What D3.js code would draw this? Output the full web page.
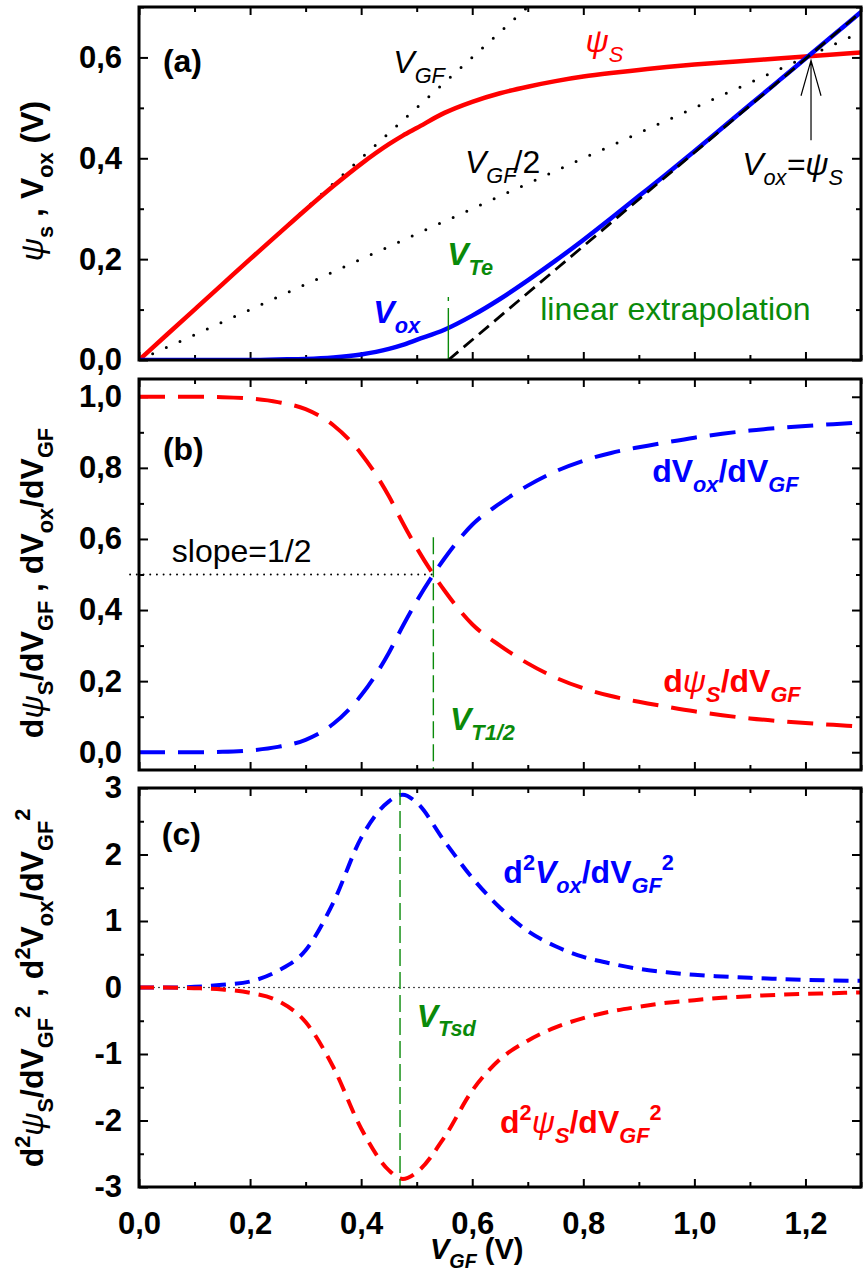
<!DOCTYPE html>
<html>
<head>
<meta charset="utf-8">
<script src="https://cdn.jsdelivr.net/npm/d3@7/dist/d3.min.js"></script>
<style>
  html, body { margin: 0; padding: 0; background: #fff; }
  svg { display: block; font-family: Arial, "Liberation Sans", sans-serif; }
</style>
</head>
<body>
<svg id="chart" width="865" height="1275"></svg>
<script>
"use strict";

/* ── Data ── */
const VGF    = [0, 0.05, 0.1, 0.15, 0.2, 0.25, 0.3, 0.35, 0.4, 0.45, 0.475, 0.5, 0.55, 0.6, 0.65, 0.7,
                0.75, 0.8, 0.85, 0.9, 0.95, 1.0, 1.05, 1.1, 1.15, 1.2, 1.25, 1.3];
const PSI_S  = [0, 0.05, 0.1, 0.15, 0.2, 0.249, 0.298, 0.345, 0.389, 0.428, 0.445, 0.46, 0.49, 0.512, 0.529, 0.542,
                0.553, 0.562, 0.569, 0.575, 0.581, 0.586, 0.59, 0.594, 0.598, 0.602, 0.606, 0.61];
const V_OX   = [0, 0, 0, 0, 0, 0.001, 0.002, 0.005, 0.011, 0.022, 0.03, 0.04, 0.06, 0.088, 0.121, 0.158,
                0.197, 0.238, 0.281, 0.325, 0.369, 0.414, 0.46, 0.506, 0.552, 0.598, 0.644, 0.69];
const D_PSI  = [1, 1, 1, 0.999, 0.995, 0.985, 0.965, 0.92, 0.84, 0.72, 0.645, 0.575, 0.455, 0.36, 0.30, 0.25,
                0.21, 0.18, 0.158, 0.142, 0.128, 0.115, 0.104, 0.095, 0.088, 0.082, 0.077, 0.072];
const D_VOX  = [0, 0, 0, 0.001, 0.005, 0.015, 0.035, 0.08, 0.16, 0.28, 0.355, 0.425, 0.545, 0.64, 0.70, 0.75,
                0.79, 0.82, 0.842, 0.858, 0.872, 0.885, 0.896, 0.905, 0.912, 0.918, 0.923, 0.928];
const D2_VOX = [0, 0, 0.01, 0.04, 0.09, 0.25, 0.56, 1.28, 2.25, 2.8, 2.9, 2.78, 2.2, 1.65, 1.2, 0.85,
                0.62, 0.46, 0.36, 0.28, 0.23, 0.19, 0.165, 0.145, 0.13, 0.115, 0.105, 0.10];
const D2_PSI = [0, 0, -0.01, -0.03, -0.08, -0.2, -0.52, -1.2, -2.12, -2.75, -2.88, -2.78, -2.25, -1.55, -1.08, -0.8,
                -0.6, -0.46, -0.36, -0.29, -0.23, -0.19, -0.155, -0.13, -0.11, -0.095, -0.085, -0.075];

/* reference lines (VGF, value) */
const LINE_VGF     = [[0, 0], [0.75, 0.75]];
const LINE_VGF_2   = [[0, 0], [1.3, 0.65]];
const LINE_EXTRAP  = [[0.557, 0], [1.3, 0.69]];
const SLOPE_HALF   = [[-0.016, 0.5], [0.53, 0.5]];
const ZERO_LINE    = [[0, 0], [1.3, 0]];

const V_TE = 0.557, V_T12 = 0.53, V_TSD = 0.47, V_CROSS = 1.21;

const X_MAJOR = [0, 0.2, 0.4, 0.6, 0.8, 1.0, 1.2];
const X_MINOR = [0.1, 0.3, 0.5, 0.7, 0.9, 1.1, 1.3];
const YA_MAJOR = [0, 0.2, 0.4, 0.6], YA_MINOR = [0.1, 0.3, 0.5, 0.7];
const YB_MAJOR = [0, 0.2, 0.4, 0.6, 0.8, 1.0], YB_MINOR = [0.1, 0.3, 0.5, 0.7, 0.9];
const YC_MAJOR = [-3, -2, -1, 0, 1, 2, 3], YC_MINOR = [-2.5, -1.5, -0.5, 0.5, 1.5, 2.5];

const RED = "#ff0000", BLUE = "#0000ff", GREEN = "#0a8a0a";
const FS = 32;

const svg = d3.select("#chart");
const x = d3.scaleLinear().domain([0, 1.3]).range([139, 861]);

const panels = {
  a: { y: d3.scaleLinear().domain([0, 0.7]).range([360, 7]),       major: YA_MAJOR, minor: YA_MINOR, fmt: d3.format(".1f") },
  b: { y: d3.scaleLinear().domain([-0.05, 1.05]).range([770, 379]), major: YB_MAJOR, minor: YB_MINOR, fmt: d3.format(".1f") },
  c: { y: d3.scaleLinear().domain([-3, 3]).range([1187, 788]),      major: YC_MAJOR, minor: YC_MINOR, fmt: d3.format("d") }
};
const comma = f => v => f(v).replace(".", ",").replace("−", "-");

/* rich text helper: parts = [{t, sub, sup, it, w}] */
function rich(parent, parts, attrs, size) {
  size = size || FS;
  const t = parent.append("text").attr("font-size", size);
  Object.entries(attrs).forEach(([k, v]) => t.attr(k, v));
  let off = 0;
  parts.forEach(p => {
    const s = t.append("tspan").text(p.t);
    const target = p.sub ? size * 0.3 : p.sup ? -size * 0.42 : 0;
    if (target !== off) { s.attr("dy", target - off); off = target; }
    if (p.sub || p.sup) s.attr("font-size", size * 0.68);
    if (p.it) s.attr("font-style", "italic");
    if (p.w) s.attr("font-weight", p.w);
    if (p.dx) s.attr("dx", p.dx);
  });
  return t;
}

function curve(g, ys, py, color, width, dash) {
  const line = d3.line().x((d, i) => x(VGF[i])).y(d => py(d)).curve(d3.curveMonotoneX);
  g.append("path").attr("d", line(ys)).attr("fill", "none")
    .attr("stroke", color).attr("stroke-width", width)
    .attr("stroke-dasharray", dash || null);
}
function seg(g, pts, py, color, width, dash, cap) {
  const line = d3.line().x(d => x(d[0])).y(d => py(d[1]));
  g.append("path").attr("d", line(pts)).attr("fill", "none")
    .attr("stroke", color).attr("stroke-width", width)
    .attr("stroke-dasharray", dash || null)
    .attr("stroke-linecap", cap || "butt");
}

/* ── Frames, ticks and clip areas ── */
Object.entries(panels).forEach(([key, p]) => {
  const [y0, y1] = p.y.range();
  const styleAxis = g => {
    g.select(".domain").remove();
    g.selectAll("line").attr("stroke", "#000").attr("stroke-width", 2);
    g.selectAll("text").attr("fill", "#000").attr("font-size", 31).attr("font-weight", "bold")
      .attr("font-family", "Arial, 'Liberation Sans', sans-serif");
  };
  const axes = svg.append("g");
  axes.append("g").attr("transform", `translate(${x.range()[0]},0)`)
    .call(d3.axisLeft(p.y).tickValues(p.major).tickSize(-9).tickPadding(17).tickFormat(comma(p.fmt))).call(styleAxis);
  axes.append("g").attr("transform", `translate(${x.range()[0]},0)`)
    .call(d3.axisLeft(p.y).tickValues(p.minor).tickSize(-5).tickFormat("")).call(styleAxis);
  axes.append("g").attr("transform", `translate(${x.range()[1]},0)`)
    .call(d3.axisRight(p.y).tickValues(p.major).tickSize(-9).tickFormat("")).call(styleAxis);
  axes.append("g").attr("transform", `translate(${x.range()[1]},0)`)
    .call(d3.axisRight(p.y).tickValues(p.minor).tickSize(-5).tickFormat("")).call(styleAxis);
  axes.append("g").attr("transform", `translate(0,${y1})`)
    .call(d3.axisTop(x).tickValues(X_MAJOR).tickSize(-8).tickFormat("")).call(styleAxis);
  axes.append("g").attr("transform", `translate(0,${y1})`)
    .call(d3.axisTop(x).tickValues(X_MINOR).tickSize(-5).tickFormat("")).call(styleAxis);
  axes.append("g").attr("transform", `translate(0,${y0})`)
    .call(d3.axisBottom(x).tickValues(X_MAJOR).tickSize(-8).tickPadding(25)
      .tickFormat(key === "c" ? comma(d3.format(".1f")) : "")).call(styleAxis);
  axes.append("g").attr("transform", `translate(0,${y0})`)
    .call(d3.axisBottom(x).tickValues(X_MINOR).tickSize(-5).tickFormat("")).call(styleAxis);

  svg.append("clipPath").attr("id", "clip-" + key).append("rect")
    .attr("x", x.range()[0]).attr("y", y1).attr("width", x.range()[1] - x.range()[0]).attr("height", y0 - y1);
  p.g = svg.append("g").attr("clip-path", `url(#clip-${key})`);
  p.frame = () => svg.append("rect")
    .attr("x", x.range()[0]).attr("y", y1).attr("width", x.range()[1] - x.range()[0]).attr("height", y0 - y1)
    .attr("fill", "none").attr("stroke", "#000").attr("stroke-width", 3);
});

/* ── Panel (a) ── */
const A = panels.a, ya = A.y;
seg(A.g, LINE_VGF, ya, "#000", 3, "0 14.5", "round");
seg(A.g, LINE_VGF_2, ya, "#000", 3, "0 15", "round");
curve(A.g, PSI_S, ya, RED, 4.5);
curve(A.g, V_OX, ya, BLUE, 4.5);
seg(A.g, LINE_EXTRAP, ya, "#000", 2.8, "13 7");
seg(A.g, [[V_TE, 0], [V_TE, 0.16]], ya, GREEN, 1.4, "52 7 4 200");
/* arrow at Vox = psi_S */
svg.append("path").attr("d", `M${x(V_CROSS)},${ya(0.436)}V${ya(0.594)}M${x(V_CROSS) - 10},${ya(0.524)}L${x(V_CROSS)},${ya(0.594)}L${x(V_CROSS) + 10},${ya(0.524)}`)
  .attr("fill", "none").attr("stroke", "#000").attr("stroke-width", 1.2);
A.frame();

rich(svg, [{t: "(a)"}], {x: x(0.043), y: ya(0.571), "font-weight": "bold"});
rich(svg, [{t: "ψ", it: 1}, {t: "S", sub: 1, it: 1}], {x: x(0.804), y: ya(0.61), fill: RED});
rich(svg, [{t: "V", it: 1}, {t: "GF", sub: 1, it: 1}], {x: x(0.458), y: ya(0.569), fill: "#000"});
rich(svg, [{t: "V", it: 1}, {t: "GF", sub: 1, it: 1}, {t: "/2", dx: -3}], {x: x(0.587), y: ya(0.371), fill: "#000"});
rich(svg, [{t: "V", it: 1}, {t: "ox", sub: 1, it: 1}, {t: "=ψ", it: 1}, {t: "S", sub: 1, it: 1}], {x: x(1.086), y: ya(0.367), fill: "#000"});
rich(svg, [{t: "V", it: 1}, {t: "Te", sub: 1, it: 1}], {x: x(0.555), y: ya(0.188), fill: GREEN, "font-weight": "bold"});
rich(svg, [{t: "V", it: 1}, {t: "ox", sub: 1, it: 1}], {x: x(0.422), y: ya(0.073), fill: BLUE, "font-weight": "bold"});
rich(svg, [{t: "linear extrapolation"}], {x: x(0.7225), y: ya(0.079), fill: GREEN});

/* ── Panel (b) ── */
const B = panels.b, yb = B.y;
svg.append("g").call(g => seg(g, SLOPE_HALF, yb, "#000", 2, "0 6.7", "round"));
curve(B.g, D_PSI, yb, RED, 4, "26 13");
curve(B.g, D_VOX, yb, BLUE, 4, "26 13");
seg(B.g, [[V_T12, 0.605], [V_T12, -0.05]], yb, GREEN, 1.4, "17 6");
B.frame();

rich(svg, [{t: "(b)"}], {x: x(0.043), y: yb(0.822), "font-weight": "bold"});
rich(svg, [{t: "slope=1/2"}], {x: x(0.059), y: yb(0.535), fill: "#000"});
rich(svg, [{t: "dV"}, {t: "ox", sub: 1, it: 1}, {t: "/dV"}, {t: "GF", sub: 1, it: 1}], {x: x(0.924), y: yb(0.76), fill: BLUE, "font-weight": "bold"});
rich(svg, [{t: "d"}, {t: "ψ", it: 1, w: "normal"}, {t: "S", sub: 1, it: 1}, {t: "/dV"}, {t: "GF", sub: 1, it: 1}], {x: x(0.944), y: yb(0.169), fill: RED, "font-weight": "bold"});
rich(svg, [{t: "V", it: 1}, {t: "T1/2", sub: 1, it: 1}], {x: x(0.56), y: yb(0.062), fill: GREEN, "font-weight": "bold"});

/* ── Panel (c) ── */
const C = panels.c, yc = C.y;
seg(C.g, ZERO_LINE, yc, "#000", 1.6, "0 5", "round");
curve(C.g, D2_VOX, yc, BLUE, 4, "15 9");
curve(C.g, D2_PSI, yc, RED, 4, "15 9");
seg(C.g, [[V_TSD, 3], [V_TSD, -3]], yc, GREEN, 1.4, "17 6");
C.frame();

rich(svg, [{t: "(c)"}], {x: x(0.041), y: yc(2.14), "font-weight": "bold"});
rich(svg, [{t: "d"}, {t: "2", sup: 1}, {t: "V", it: 1}, {t: "ox", sub: 1, it: 1}, {t: "/dV"}, {t: "GF", sub: 1, it: 1}, {t: "2", sup: 1}],
  {x: x(0.656), y: yc(1.57), fill: BLUE, "font-weight": "bold"});
rich(svg, [{t: "d"}, {t: "2", sup: 1}, {t: "ψ", it: 1, w: "normal"}, {t: "S", sub: 1, it: 1}, {t: "/dV"}, {t: "GF", sub: 1, it: 1}, {t: "2", sup: 1}],
  {x: x(0.65), y: yc(-2.19), fill: RED, "font-weight": "bold"});
rich(svg, [{t: "V", it: 1}, {t: "Tsd", sub: 1, it: 1}], {x: x(0.50), y: yc(-0.59), fill: GREEN, "font-weight": "bold"});

/* ── Axis titles ── */
function yTitle(parts, cy) {
  rich(svg, parts, {transform: `translate(43,${cy}) rotate(-90)`, "text-anchor": "middle", "font-weight": "bold", fill: "#000"});
}
yTitle([{t: "ψ", it: 1, w: "normal"}, {t: "s", sub: 1}, {t: " , V"}, {t: "ox", sub: 1}, {t: " (V)"}], 181);
yTitle([{t: "d"}, {t: "ψ", it: 1, w: "normal"}, {t: "S", sub: 1}, {t: "/dV"}, {t: "GF", sub: 1}, {t: " , dV"}, {t: "ox", sub: 1}, {t: "/dV"}, {t: "GF", sub: 1}], 583);
yTitle([{t: "d"}, {t: "2", sup: 1}, {t: "ψ", it: 1, w: "normal"}, {t: "S", sub: 1}, {t: "/dV"}, {t: "GF", sub: 1}, {t: "2", sup: 1}, {t: " , d"}, {t: "2", sup: 1}, {t: "V"}, {t: "ox", sub: 1}, {t: "/dV"}, {t: "GF", sub: 1}, {t: "2", sup: 1}], 988);

rich(svg, [{t: "V", it: 1}, {t: "GF", sub: 1, it: 1}, {t: " (V)"}], {x: 430, y: 1259, "font-weight": "bold", fill: "#000"}, 29);
</script>
</body>
</html>
